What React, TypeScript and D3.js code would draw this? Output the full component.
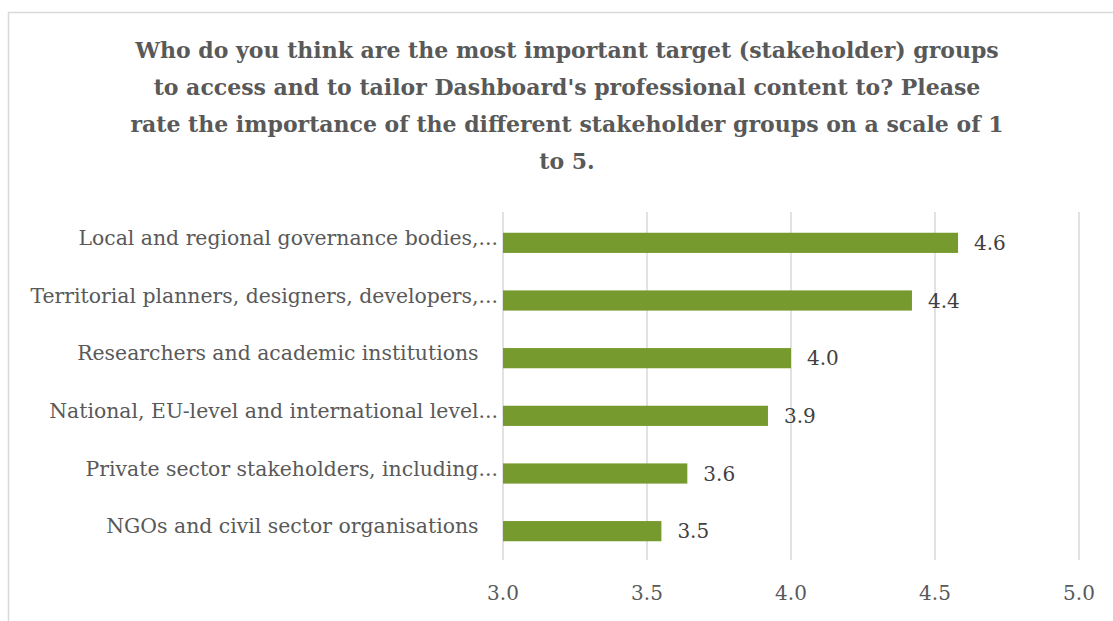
import { useRef, useEffect } from "react";
import * as d3 from "d3";

const categories = [
  "Local and regional governance bodies,...",
  "Territorial planners, designers, developers,...",
  "Researchers and academic institutions   ",
  "National, EU-level and international level...",
  "Private sector stakeholders, including...",
  "NGOs and civil sector organisations   ",
];
const values = [4.58, 4.42, 4.0, 3.92, 3.64, 3.55];
const ticks = [3.0, 3.5, 4.0, 4.5, 5.0];
const titleLines = [
  "Who do you think are the most important target (stakeholder) groups",
  "to access and to tailor Dashboard's professional content to? Please",
  "rate the importance of the different stakeholder groups on a scale of 1",
  "to 5.",
];

const W = 1113;
const H = 621;
const FONT = "'DejaVu Serif', 'Liberation Serif', serif";

export default function App() {
  const svgRef = useRef<SVGSVGElement>(null);

  useEffect(() => {
    const svg = d3.select(svgRef.current);
    svg.selectAll("*").remove();

    // chart frame
    svg
      .append("rect")
      .attr("x", 8.5)
      .attr("y", 12.5)
      .attr("width", 1200)
      .attr("height", 700)
      .attr("fill", "#fff")
      .attr("stroke", "#d9d9d9")
      .attr("stroke-width", 1.5);

    const x = d3.scaleLinear().domain([3, 5]).range([503, 1079]);
    const y = d3
      .scaleBand<string>()
      .domain(categories)
      .range([214, 560])
      .paddingInner(0.65)
      .paddingOuter(0.325);

    // title
    svg
      .append("g")
      .selectAll("text")
      .data(titleLines)
      .join("text")
      .attr("x", 567)
      .attr("y", (_, i) => 58 + i * 37)
      .attr("text-anchor", "middle")
      .attr("font-family", FONT)
      .attr("font-weight", "bold")
      .attr("font-size", 22)
      .attr("fill", "#595959")
      .text((d) => d);

    // gridlines
    svg
      .append("g")
      .selectAll("line")
      .data(ticks)
      .join("line")
      .attr("x1", (d) => x(d))
      .attr("x2", (d) => x(d))
      .attr("y1", 212)
      .attr("y2", 560)
      .attr("stroke", "#d9d9d9")
      .attr("stroke-width", 1.5);

    // bars
    svg
      .append("g")
      .selectAll("rect")
      .data(values)
      .join("rect")
      .attr("x", x(3))
      .attr("y", (_, i) => y(categories[i])!)
      .attr("width", (d) => x(d) - x(3))
      .attr("height", y.bandwidth())
      .attr("fill", "#769a2e");

    // data labels
    svg
      .append("g")
      .selectAll("text")
      .data(values)
      .join("text")
      .attr("x", (d) => x(d) + 16)
      .attr("y", (_, i) => y(categories[i])! + y.bandwidth() / 2 + 7)
      .attr("font-family", FONT)
      .attr("font-size", 20)
      .attr("fill", "#404040")
      .text((d) => d.toFixed(1));

    // category labels
    svg
      .append("g")
      .selectAll("text")
      .data(categories)
      .join("text")
      .attr("x", 498)
      .attr("y", (d) => y(d)! + y.bandwidth() / 2 + 2)
      .attr("text-anchor", "end")
      .attr("font-family", FONT)
      .attr("font-size", 20.4)
      .attr("fill", "#595959")
      .style("white-space", "pre")
      .text((d) => d);

    // x tick labels
    svg
      .append("g")
      .selectAll("text")
      .data(ticks)
      .join("text")
      .attr("x", (d) => x(d))
      .attr("y", 600)
      .attr("text-anchor", "middle")
      .attr("font-family", FONT)
      .attr("font-size", 20)
      .attr("fill", "#595959")
      .text((d) => d.toFixed(1));
  }, []);

  return (
    <svg
      ref={svgRef}
      width={W}
      height={H}
      style={{ position: "absolute", left: 0, top: 0, overflow: "hidden" }}
    />
  );
}
